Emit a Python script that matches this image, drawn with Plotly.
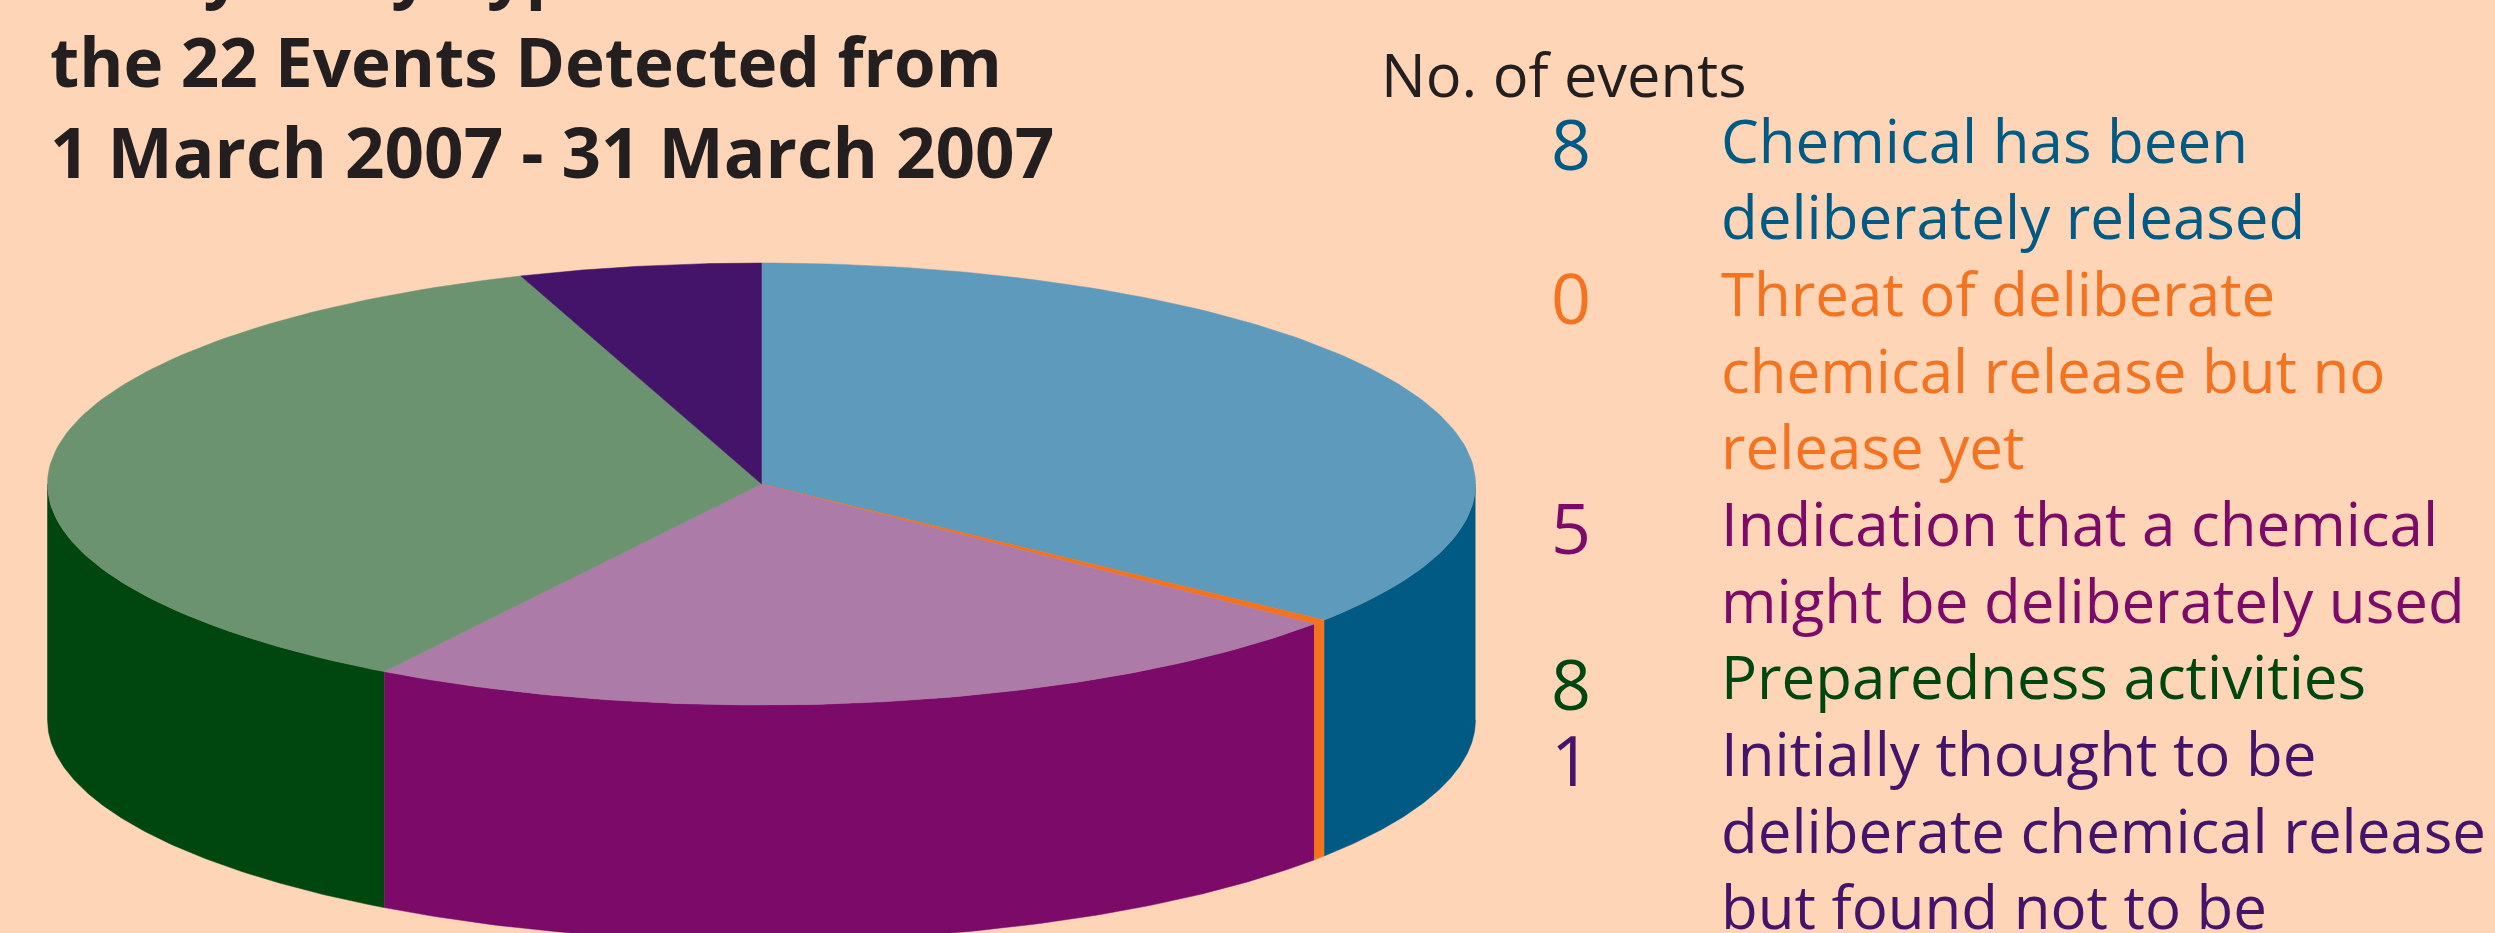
import numpy as np
import plotly.graph_objects as go

# ---------- data ----------
categories = ["Chemical has been deliberately released",
              "Threat of deliberate chemical release but no release yet",
              "Indication that a chemical might be deliberately used",
              "Preparedness activities",
              "Initially thought to be deliberate chemical release but found not to be"]
event_counts = [8, 0, 5, 8, 1]
# slice sweeps as drawn in the picture, in degrees (the empty class keeps a sliver)
slice_degrees = [128.0, 1.3, 82.6, 128.4, 19.7]
top_colors = ["#5E9ABC", "#F47320", "#AD7BA8", "#6C9370", "#43146A"]
side_colors = ["#005A84", "#F47320", "#7B0A68", "#00470F", "#43146A"]
legend_lines = [["Chemical has been", "deliberately released"],
                ["Threat of deliberate", "chemical release but no", "release yet"],
                ["Indication that a chemical", "might be deliberately used"],
                ["Preparedness activities"],
                ["Initially thought to be", "deliberate chemical release", "but found not to be"]]
title_lines = ["Analysis by Type of", "the 22 Events Detected from", "1 March 2007 - 31 March 2007"]
legend_header = "No. of events"

# ---------- layout constants ----------
W, H = 2495, 933
BG = "#FFD5B8"
INK = "#231F20"
FONT = "Open Sans"
CX, CY, RX, RY, DEPTH = 761.5, 484, 714, 221, 236

def rim(a0, a1, n=120):
    t = np.radians(np.linspace(a0, a1, n))
    return CX + RX * np.sin(t), CY - RY * np.cos(t)

fig = go.Figure()
edges = np.concatenate([[0], np.cumsum(slice_degrees)])

# sides (only the front half, 90..270 degrees, is visible)
for i, c in enumerate(side_colors):
    a0, a1 = max(edges[i], 90), min(edges[i + 1], 270)
    if a1 <= a0:
        continue
    x, y = rim(a0, a1)
    fig.add_trace(go.Scatter(
        x=np.concatenate([x, x[::-1]]), y=np.concatenate([y, y[::-1] + DEPTH]),
        mode="lines", fill="toself", fillcolor=c, line=dict(width=0.5, color=c),
        name=categories[i], hoverinfo="skip", showlegend=False))

# tops
for i, c in enumerate(top_colors):
    x, y = rim(edges[i], edges[i + 1])
    fig.add_trace(go.Scatter(
        x=np.concatenate([[CX], x, [CX]]), y=np.concatenate([[CY], y, [CY]]),
        mode="lines", fill="toself", fillcolor=c, line=dict(width=0.5, color=c),
        name=categories[i], hoverinfo="skip", showlegend=False))

def label(txt, x, baseline, size, color, bold=False, anchor="left"):
    fig.add_annotation(
        x=x / W, y=1 - (baseline - 0.36 * size) / H, xref="paper", yref="paper",
        text=f"<b>{txt}</b>" if bold else txt,
        showarrow=False, xanchor=anchor, yanchor="middle", align="left",
        font=dict(family=FONT, size=size, color=color), borderpad=0)

for txt, base, size in zip(title_lines, [-7, 85.5, 175.5], [68, 67.3, 69.2]):
    label(txt, 49, base, size, INK, bold=True)

label(legend_header, 1380, 95, 59.5, INK)

line_bases = [162, 238, 315, 392, 468, 545, 622, 698, 775, 852, 928]
num_bases = [168, 322, 552, 708, 784]
k = 0
for i, lines in enumerate(legend_lines):
    label(str(event_counts[i]), 1571, num_bases[i], 70, side_colors[i], anchor="center")
    for ln in lines:
        label(ln, 1720, line_bases[k], 60, side_colors[i])
        k += 1

fig.update_layout(
    width=W, height=H, margin=dict(l=0, r=0, t=0, b=0), showlegend=False,
    paper_bgcolor=BG, plot_bgcolor=BG,
    xaxis=dict(range=[0, W], visible=False, fixedrange=True),
    yaxis=dict(range=[H, 0], visible=False, fixedrange=True))
fig.write_html("out.html", config=dict(displayModeBar=False),
               post_script="document.body.style.margin='0';document.documentElement.style.background='%s';document.body.style.overflow='hidden';" % BG)
